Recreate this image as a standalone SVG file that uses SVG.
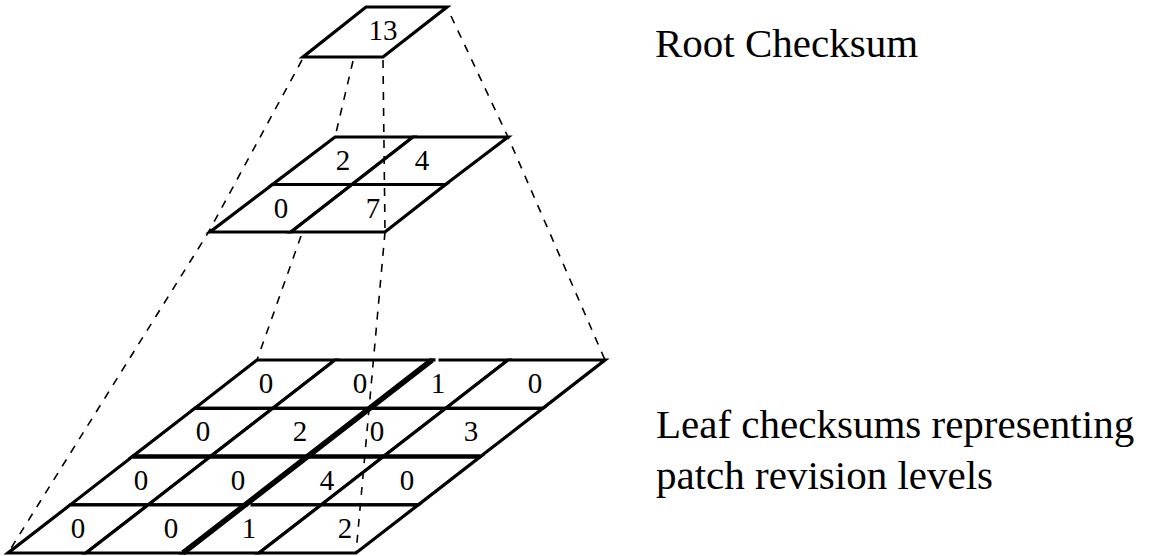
<svg xmlns="http://www.w3.org/2000/svg" width="1154" height="556" viewBox="0 0 1154 556">
<style>
.cell{fill:#fff;stroke:#000;stroke-width:3.2;stroke-linejoin:miter}
.num{font-family:"Liberation Serif","Times New Roman",serif;font-size:29px;fill:#000;text-anchor:middle}
.lbl{font-family:"Liberation Serif","Times New Roman",serif;font-size:41px;fill:#000}
.dash{fill:none;stroke:#000;stroke-width:1.6;stroke-dasharray:8 8}
.thick{stroke:#000;stroke-width:5.5;stroke-linecap:butt}
</style>
<rect width="1154" height="556" fill="#fff"/>
<g id="root">
<polygon class="cell" points="366,7 447,7 383,57 303,57"/>
<text class="num" x="383" y="40">13</text>
</g>
<g id="middle">
<g id="mid-2"><polygon class="cell" points="335,137 413,137 352,184.5 272.5,184.5"/><text class="num" x="343" y="170">2</text></g>
<g id="mid-4"><polygon class="cell" points="413,137 508,137 445.5,184.5 352,184.5"/><text class="num" x="422" y="170">4</text></g>
<g id="mid-0"><polygon class="cell" points="272.5,184.5 352,184.5 291,232 210,232"/><text class="num" x="281" y="218">0</text></g>
<g id="mid-7"><polygon class="cell" points="352,184.5 445.5,184.5 385,232 291,232"/><text class="num" x="373" y="218">7</text></g>
</g>
<g id="leaves">
<g id="leaf-r0c0"><polygon class="cell" points="257,360 335,360 272.8,408.3 194.8,408.3"/><text class="num" x="266" y="393">0</text></g>
<g id="leaf-r0c1"><polygon class="cell" points="335,360 432,360 369.8,408.3 272.8,408.3"/><text class="num" x="360" y="393">0</text></g>
<g id="leaf-r0c2"><polygon class="cell" points="432,360 508,360 445.8,408.3 369.8,408.3"/><text class="num" x="438" y="393">1</text></g>
<g id="leaf-r0c3"><polygon class="cell" points="508,360 605,360 542.8,408.3 445.8,408.3"/><text class="num" x="535" y="393">0</text></g>
<g id="leaf-r1c0"><polygon class="cell" points="194.8,408.3 272.8,408.3 210.5,456.5 132.5,456.5"/><text class="num" x="203" y="441">0</text></g>
<g id="leaf-r1c1"><polygon class="cell" points="272.8,408.3 369.8,408.3 307.5,456.5 210.5,456.5"/><text class="num" x="300" y="441">2</text></g>
<g id="leaf-r1c2"><polygon class="cell" points="369.8,408.3 445.8,408.3 383.5,456.5 307.5,456.5"/><text class="num" x="377" y="441">0</text></g>
<g id="leaf-r1c3"><polygon class="cell" points="445.8,408.3 542.8,408.3 480.5,456.5 383.5,456.5"/><text class="num" x="471" y="441">3</text></g>
<g id="leaf-r2c0"><polygon class="cell" points="132.5,456.5 210.5,456.5 148.3,504.8 70.3,504.8"/><text class="num" x="141" y="490">0</text></g>
<g id="leaf-r2c1"><polygon class="cell" points="210.5,456.5 307.5,456.5 245.3,504.8 148.3,504.8"/><text class="num" x="238" y="490">0</text></g>
<g id="leaf-r2c2"><polygon class="cell" points="307.5,456.5 383.5,456.5 321.3,504.8 245.3,504.8"/><text class="num" x="327" y="490">4</text></g>
<g id="leaf-r2c3"><polygon class="cell" points="383.5,456.5 480.5,456.5 418.3,504.8 321.3,504.8"/><text class="num" x="407" y="490">0</text></g>
<g id="leaf-r3c0"><polygon class="cell" points="70.3,504.8 148.3,504.8 86,553 8,553"/><text class="num" x="78" y="538">0</text></g>
<g id="leaf-r3c1"><polygon class="cell" points="148.3,504.8 245.3,504.8 183,553 86,553"/><text class="num" x="171" y="538">0</text></g>
<g id="leaf-r3c2"><polygon class="cell" points="245.3,504.8 321.3,504.8 259,553 183,553"/><text class="num" x="249" y="538">1</text></g>
<g id="leaf-r3c3"><polygon class="cell" points="321.3,504.8 418.3,504.8 356,553 259,553"/><text class="num" x="345" y="538">2</text></g>
<line x1="435.5" y1="360" x2="438.5" y2="360" stroke="#fff" stroke-width="4.2"/>
<line x1="248" y1="504.8" x2="250.5" y2="504.8" stroke="#fff" stroke-width="4.2"/>
<line class="thick" x1="132.5" y1="456.5" x2="480.5" y2="456.5" style="stroke-width:4.6"/>
<line class="thick" x1="432" y1="360" x2="183" y2="553"/>
</g>
<g id="connectors">
<polyline class="dash" points="302,60 208,233 8,553"/>
<line class="dash" x1="353" y1="61" x2="335" y2="137"/>
<line class="dash" x1="301" y1="236" x2="257" y2="360"/>
<line class="dash" x1="383" y1="60" x2="385" y2="232"/>
<line class="dash" x1="385" y1="232" x2="356" y2="553"/>
<polyline class="dash" points="451,16 508,137 605,360"/>
</g>
<g id="labels">
<text class="lbl" x="655" y="57">Root Checksum</text>
<text class="lbl" x="656" y="438">Leaf checksums representing</text>
<text class="lbl" x="656" y="489">patch revision levels</text>
</g>
</svg>
